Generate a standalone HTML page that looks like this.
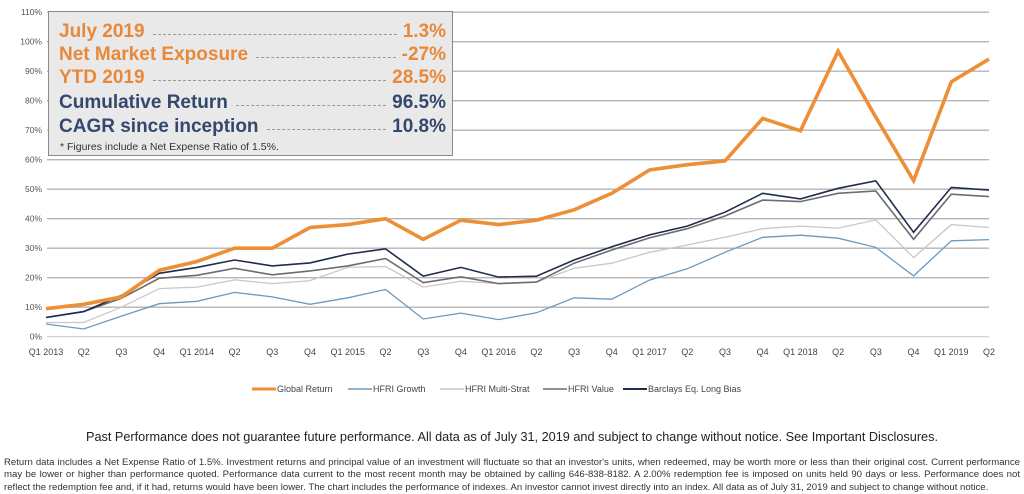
<!DOCTYPE html>
<html><head><meta charset="utf-8"><style>
body{margin:0;width:1024px;height:493px;background:#fff;overflow:hidden;font-family:"Liberation Sans",sans-serif;position:relative}
svg{position:absolute;left:0;top:0}
.box{position:absolute;left:48px;top:11px;width:405px;height:145px;background:#e9e9e9;border:1px solid #8a8a8a;box-sizing:border-box}
.row{position:absolute;left:10px;right:6px;height:24px;display:flex;align-items:center;font-weight:bold;font-size:19px;white-space:nowrap}
.row .d{flex:1;border-bottom:1.5px dashed #999;margin:4px 6px 0 8px;height:0}
.o{color:#e8893a}.b{color:#34486e}
.fn{position:absolute;left:11px;top:129px;font-size:10.5px;color:#333}
.pp{position:absolute;top:430px;left:0;width:1024px;text-align:center;font-size:12.7px;color:#222}
.disc{position:absolute;left:4px;top:457px;width:1016px;font-size:9.6px;line-height:12.3px;color:#333}
.disc div{text-align:justify;text-align-last:justify}
</style></head><body>
<svg id="c" width="1024" height="420" xmlns="http://www.w3.org/2000/svg" font-family="Liberation Sans, sans-serif"></svg>
<div class="box">
<div class="row o" style="top:8px">July 2019<span class="d"></span>1.3%</div>
<div class="row o" style="top:31px">Net Market Exposure<span class="d"></span>-27%</div>
<div class="row o" style="top:54px">YTD 2019<span class="d"></span>28.5%</div>
<div class="row b" style="top:79px">Cumulative Return<span class="d"></span>96.5%</div>
<div class="row b" style="top:103px">CAGR since inception<span class="d"></span>10.8%</div>
<div class="fn">* Figures include a Net Expense Ratio of 1.5%.</div>
</div>
<div class="pp">Past Performance does not guarantee future performance. All data as of July 31, 2019 and subject to change without notice. See Important Disclosures.</div>
<div class="disc">
<div>Return data includes a Net Expense Ratio of 1.5%. Investment returns and principal value of an investment will fluctuate so that an investor's units, when redeemed, may be worth more or less than their original cost. Current performance</div>
<div>may be lower or higher than performance quoted. Performance data current to the most recent month may be obtained by calling 646-838-8182. A 2.00% redemption fee is imposed on units held 90 days or less. Performance does not</div>
<div style="text-align-last:left">reflect the redemption fee and, if it had, returns would have been lower. The chart includes the performance of indexes. An investor cannot invest directly into an index. All data as of July 31, 2019 and subject to change without notice.</div>
</div>
<script>
var s=document.getElementById('c'),h='';
var y0=336.7,k=2.95,x0=46,dx=37.72;
function Y(v){return y0-v*k}
for(var i=0;i<=11;i++){var y=Y(i*10);h+='<line x1="47" x2="989" y1="'+y+'" y2="'+y+'" stroke="'+(i==0?'#d4d4d4':'#b4b4b4')+'" stroke-width="1.3"/>';
h+='<text x="42" y="'+(y+3)+'" font-size="8.5" fill="#555" text-anchor="end">'+(i*10)+'%</text>';}
var L=['Q1 2013','Q2','Q3','Q4','Q1 2014','Q2','Q3','Q4','Q1 2015','Q2','Q3','Q4','Q1 2016','Q2','Q3','Q4','Q1 2017','Q2','Q3','Q4','Q1 2018','Q2','Q3','Q4','Q1 2019','Q2'];
L.forEach(function(t,i){h+='<text x="'+(x0+i*dx)+'" y="355" font-size="9" fill="#444" text-anchor="middle">'+t+'</text>'});
var S=[
['#c8c8c8',1.3,[4.8,4.8,10,16.3,16.8,19.3,18,19,23.5,23.8,16.8,18.8,18,18.5,23.2,24.9,28.6,31.1,33.7,36.6,37.5,36.8,39.6,26.8,38,37]],
['#6a9ac0',1.3,[4.3,2.6,7,11.2,12,15,13.5,11,13.2,16,6,8,5.8,8.1,13.2,12.7,19.2,23,28.6,33.7,34.4,33.4,30.3,20.6,32.5,32.9]],
['#6d6d6d',1.6,[6.5,8.5,13,19.8,20.8,23.2,21,22.3,24,26.5,18.3,20.3,18,18.5,24.9,29.4,33.5,36.6,40.9,46.3,45.8,48.6,49.4,33,48.3,47.5]],
['#1f2d4d',1.6,[6.5,8.5,14,21.5,23.5,26,24,25,28,29.8,20.5,23.5,20.2,20.5,26,30.5,34.5,37.5,42.2,48.6,46.7,50.3,52.8,35.4,50.6,49.7]],
['#ec8f36',3.6,[9.5,11,13.5,22.5,25.5,30,30,37,38,40,33,39.5,38,39.5,43,48.6,56.5,58.3,59.6,74,69.8,96.8,74.4,52.9,86.4,94.1]]];
S.forEach(function(a){var p=a[2].map(function(v,i){return (x0+i*dx).toFixed(1)+','+Y(v).toFixed(1)}).join(' ');
h+='<polyline points="'+p+'" fill="none" stroke="'+a[0]+'" stroke-width="'+a[1]+'" stroke-linejoin="miter"/>'});
var G=[['#ec8f36',3,252,'Global Return'],['#6a9ac0',1.5,348,'HFRI Growth'],['#c8c8c8',1.5,440,'HFRI Multi-Strat'],['#6d6d6d',1.5,543,'HFRI Value'],['#1f2d4d',2,623,'Barclays Eq. Long Bias']];
G.forEach(function(g){h+='<line x1="'+g[2]+'" x2="'+(g[2]+24)+'" y1="389" y2="389" stroke="'+g[0]+'" stroke-width="'+g[1]+'"/><text x="'+(g[2]+25)+'" y="392" font-size="9" fill="#444">'+g[3]+'</text>'});
s.innerHTML=h;
</script>
</body></html>
